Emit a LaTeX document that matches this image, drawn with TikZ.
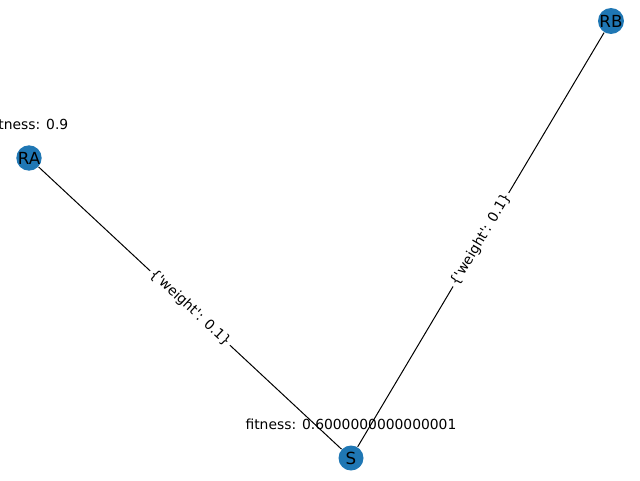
\documentclass[tikz,border=0pt]{standalone}
\usepackage{fontspec}
\setmainfont{DejaVu Sans}[Ligatures=TeXOff]
\usetikzlibrary
  {
    positioning, % place nodes relative to other nodes
  }
\definecolor{nodeblue}{HTML}{1F77B4}

\begin{document}
\begin{tikzpicture}[x=0.75pt,y=-0.75pt,line width=0.75pt,
    agent/.style={circle,fill=nodeblue,inner sep=0pt,minimum size=18.75pt,
                  font=\fontsize{12.5}{14}\selectfont},
    fitness/.style={font=\fontsize{10.4}{12}\selectfont},
    weight/.style={sloped,fill=white,inner sep=1.5pt,
                   font=\fontsize{10.4}{12}\selectfont}]
    \useasboundingbox (0,0) rectangle (640,480);

    \node [agent] (RA) at (29,158) {RA};
    \node [agent] (RB) at (611,21) {RB};
    \node [agent] (S)  at (351,458) {S};

    \node [fitness, above=8pt of RA] (fitRA) {fitness: 0.9};
    \node [fitness, above=8pt of S]  (fitS)  {fitness: 0.6000000000000001};

    \draw (RA) -- node [weight] {\{'weight': 0.1\}} (S);
    \draw (S) -- node [weight] {\{'weight': 0.1\}} (RB);
\end{tikzpicture}
\end{document}
